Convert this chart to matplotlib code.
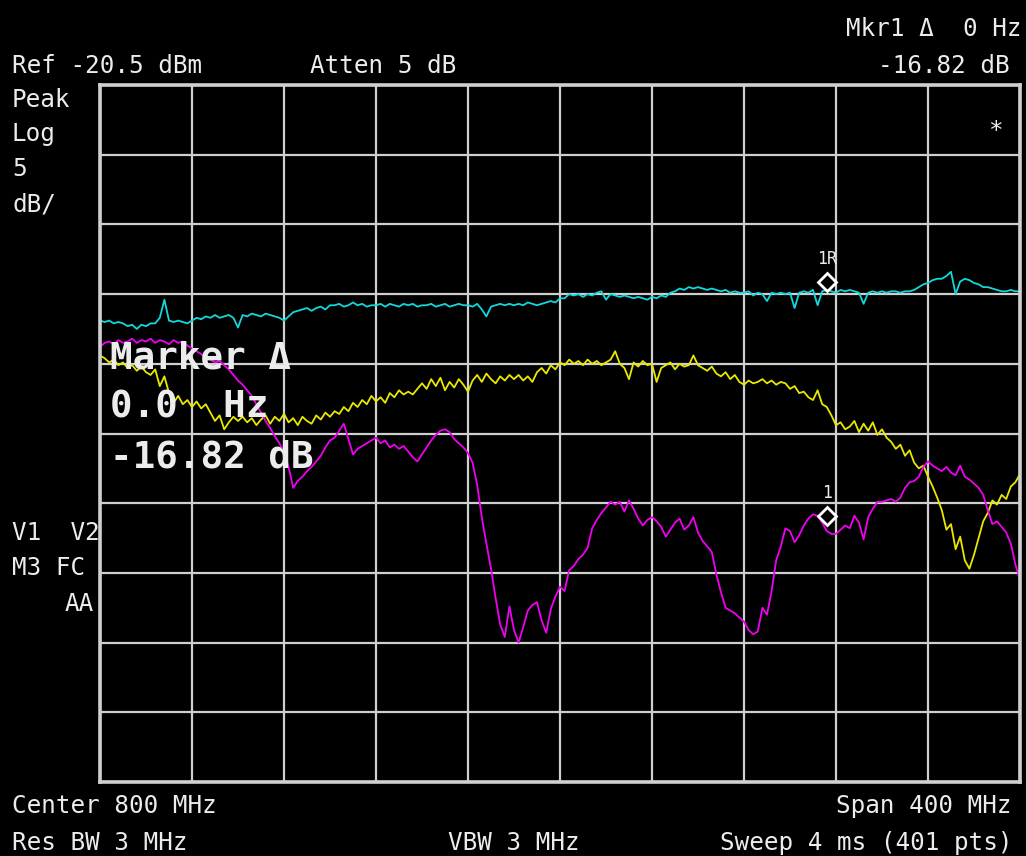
import numpy as np
import matplotlib
matplotlib.use("Agg")
import matplotlib.pyplot as plt

W, H = 1026, 856

# sweep: 600-1000 MHz, read every 2 MHz
freq_mhz = np.arange(600, 1001, 2)

# trace 1 (cyan), dBm
cyan_dbm = [
    -37.4, -37.5, -37.4, -37.6, -37.5, -37.6, -37.8, -37.7, -38.0, -37.7,
    -37.8, -37.6, -37.6, -37.2, -35.9, -37.4, -37.5, -37.4, -37.5, -37.6,
    -37.4, -37.2, -37.3, -37.1, -37.2, -37.0, -37.2, -37.1, -37.0, -37.2,
    -37.9, -37.0, -37.1, -36.9, -37.0, -37.1, -36.9, -37.0, -37.1, -37.2,
    -37.4, -37.1, -36.8, -36.7, -36.6, -36.5, -36.7, -36.5, -36.4, -36.6,
    -36.3, -36.3, -36.2, -36.4, -36.3, -36.1, -36.3, -36.2, -36.4, -36.3,
    -36.3, -36.2, -36.4, -36.2, -36.3, -36.4, -36.2, -36.3, -36.2, -36.4,
    -36.3, -36.3, -36.2, -36.4, -36.3, -36.2, -36.4, -36.3, -36.2, -36.3,
    -36.3, -36.4, -36.2, -36.6, -37.1, -36.4, -36.3, -36.2, -36.3, -36.2,
    -36.3, -36.2, -36.3, -36.1, -36.2, -36.3, -36.2, -36.1, -36.0, -36.1,
    -35.8, -35.8, -35.5, -35.6, -35.5, -35.7, -35.5, -35.6, -35.4, -35.3,
    -35.9, -35.5, -35.6, -35.7, -35.6, -35.7, -35.8, -35.7, -35.8, -35.9,
    -35.7, -35.8, -35.6, -35.7, -35.4, -35.3, -35.1, -35.2, -35.0, -35.1,
    -35.0, -35.1, -35.2, -35.1, -35.2, -35.3, -35.2, -35.4, -35.3, -35.4,
    -35.4, -35.3, -35.6, -35.4, -35.5, -36.0, -35.4, -35.5, -35.4, -35.5,
    -35.4, -36.5, -35.4, -35.3, -35.4, -35.2, -36.3, -35.3, -35.2, -35.3,
    -35.4, -35.2, -35.3, -35.2, -35.3, -35.4, -36.2, -35.4, -35.3, -35.4,
    -35.3, -35.4, -35.3, -35.3, -35.4, -35.3, -35.3, -35.2, -35.0, -34.8,
    -34.7, -34.5, -34.4, -34.4, -34.2, -33.9, -35.5, -34.6, -34.4, -34.5,
    -34.7, -34.8, -35.0, -35.0, -35.1, -35.2, -35.3, -35.3, -35.2, -35.3,
    -35.3,
]

# trace 2 (yellow), dBm
yellow_dbm = [
    -39.9, -40.1, -40.4, -40.2, -40.6, -40.4, -40.8, -40.6, -41.0, -40.7,
    -41.1, -41.3, -40.9, -42.1, -41.4, -42.6, -43.3, -42.8, -43.4, -43.1,
    -43.6, -43.2, -43.7, -43.4, -44.0, -44.6, -44.2, -45.2, -44.7, -44.3,
    -44.6, -44.3, -44.7, -44.4, -44.9, -44.5, -44.2, -44.8, -44.3, -44.6,
    -44.1, -44.7, -44.4, -44.9, -44.3, -44.6, -44.8, -44.2, -44.5, -44.0,
    -44.3, -43.9, -44.1, -43.6, -43.9, -43.3, -43.6, -43.1, -43.4, -42.8,
    -43.2, -42.9, -43.3, -42.6, -42.9, -42.4, -42.7, -42.5, -42.7, -42.3,
    -41.9, -42.3, -41.6, -42.1, -41.5, -42.4, -41.8, -42.2, -41.6, -42.0,
    -42.5, -41.7, -41.3, -41.8, -41.2, -41.6, -41.9, -41.4, -41.7, -41.3,
    -41.6, -41.3, -41.7, -41.4, -41.8, -41.1, -40.8, -41.2, -40.6, -40.9,
    -40.4, -40.6, -40.2, -40.5, -40.3, -40.6, -40.2, -40.5, -40.3, -40.6,
    -40.4, -40.2, -39.6, -40.5, -40.8, -41.6, -40.4, -40.7, -40.3, -40.6,
    -40.5, -41.8, -40.8, -40.6, -40.4, -40.9, -40.5, -40.7, -40.6, -39.9,
    -40.6, -40.8, -41.0, -40.7, -41.2, -41.4, -41.1, -41.6, -41.3, -41.8,
    -42.0, -41.7, -41.9, -41.8, -41.6, -41.9, -41.7, -42.0, -41.8, -41.9,
    -42.3, -42.1, -42.6, -42.5, -42.9, -43.1, -42.4, -43.4, -43.6, -44.2,
    -44.9, -44.7, -45.2, -45.0, -44.6, -45.4, -44.8, -45.3, -44.7, -45.6,
    -45.2, -45.8, -46.1, -46.6, -46.3, -47.1, -46.7, -47.6, -48.0, -47.8,
    -48.6, -49.3, -50.1, -51.0, -52.4, -52.0, -53.8, -52.9, -54.6, -55.2,
    -54.2, -53.0, -51.8, -51.2, -50.3, -50.6, -49.9, -50.2, -49.3, -49.0,
    -48.4,
]

# trace 3 (magenta), dBm
magenta_dbm = [
    -39.3, -39.0, -38.9, -39.1, -38.8, -39.0, -38.9, -38.7, -39.0, -38.8,
    -38.9, -38.7, -39.0, -38.8, -38.9, -39.1, -38.8, -39.0, -38.9, -39.2,
    -39.4, -39.6, -39.8, -40.1, -40.2, -40.4, -40.3, -40.6, -40.9, -41.3,
    -41.7, -42.0, -42.4, -42.8, -43.4, -44.0, -44.6, -45.1, -45.7, -46.2,
    -46.8, -47.9, -49.4, -48.9, -48.6, -48.2, -47.9, -47.5, -47.1, -46.5,
    -46.0, -45.8, -45.3, -44.8, -45.9, -47.0, -46.6, -46.4, -46.2, -46.0,
    -45.8, -46.2, -46.0, -46.5, -46.3, -46.6, -46.4, -46.8, -47.2, -47.5,
    -47.0, -46.5, -46.0, -45.6, -45.3, -45.2, -45.4, -45.9, -46.2, -46.5,
    -46.9, -47.6, -49.2, -51.5, -53.4, -55.2, -57.3, -59.2, -60.1, -57.9,
    -59.6, -60.5, -59.4, -58.2, -57.8, -57.6, -58.9, -59.8, -58.1, -57.2,
    -56.5, -56.8, -55.3, -55.0, -54.5, -54.2, -53.7, -52.3, -51.7, -51.2,
    -50.8, -50.4, -50.6, -50.4, -51.1, -50.3, -50.9, -51.6, -52.1, -51.7,
    -51.5, -51.8, -52.2, -52.9, -52.4, -51.9, -51.6, -52.4, -52.1, -51.5,
    -52.6, -53.2, -53.6, -54.0, -55.6, -56.9, -58.0, -58.2, -58.4, -58.7,
    -59.0, -59.6, -59.9, -59.7, -58.0, -58.5, -56.8, -54.6, -53.6, -52.3,
    -52.5, -53.3, -52.8, -52.1, -51.6, -51.3, -51.4, -51.9, -52.5, -52.7,
    -52.7, -52.4, -52.1, -52.3, -51.4, -51.9, -53.1, -51.5, -50.9, -50.4,
    -50.4, -50.3, -50.2, -50.4, -50.1, -49.4, -49.0, -48.9, -48.6, -47.9,
    -47.5, -47.8, -48.0, -48.2, -47.9, -48.3, -48.5, -47.8, -48.6, -48.8,
    -49.1, -49.4, -49.9, -51.0, -52.0, -51.8, -52.2, -52.6, -53.4, -54.9,
    -56.0,
]

ref_level = -20.5
db_per_div = 5
marker_freq = 916
marker_ref_dbm = -34.6
marker_dbm = -51.42

TXT = "#ececec"
GRID = "#cfcfcf"
MONO = "DejaVu Sans Mono"

fig = plt.figure(figsize=(W / 100, H / 100), dpi=100, facecolor="black")


def ftext(x, y, s, size=17.5, ha="left", weight="normal"):
    # x, y in pixels from top-left, y is the baseline
    fig.text(x / W, 1 - y / H, s, color=TXT, fontsize=size, family=MONO,
             ha=ha, va="baseline", fontweight=weight)


ax = fig.add_axes([100 / W, (H - 782) / H, 920 / W, (782 - 85) / H])
ax.set_facecolor("black")
ax.set_xlim(600, 1000)
ax.set_ylim(ref_level - 10 * db_per_div, ref_level)
ax.set_xticks(np.arange(600, 1001, 40))
ax.set_yticks(np.arange(ref_level - 10 * db_per_div, ref_level + 0.1, db_per_div))
ax.tick_params(length=0, labelbottom=False, labelleft=False)
ax.grid(True, color=GRID, lw=1.6)
ax.set_axisbelow(True)
for sp in ax.spines.values():
    sp.set_color(GRID)
    sp.set_linewidth(2.6)

ax.plot(freq_mhz, cyan_dbm, color="#10d8dc", lw=1.3)
ax.plot(freq_mhz, yellow_dbm, color="#e8e800", lw=1.3)
ax.plot(freq_mhz, magenta_dbm, color="#f000f0", lw=1.3)

for lvl, lab in [(marker_ref_dbm, "1R"), (marker_dbm, "1")]:
    ax.plot(marker_freq, lvl, marker="D", ms=9, mfc="none", mec="white", mew=2)
    ax.annotate(lab, (marker_freq, lvl), xytext=(0, 14), textcoords="offset pixels",
                ha="center", va="bottom", color=TXT, fontsize=12, family=MONO)

# header
ftext(1022, 36, "Mkr1 \u0394  0 Hz", ha="right")
ftext(12, 73, "Ref -20.5 dBm")
ftext(310, 73, "Atten 5 dB")
ftext(1010, 73, "-16.82 dB", ha="right")

# left annotations
ftext(12, 107, "Peak")
ftext(12, 141, "Log")
ftext(12, 176, "5")
ftext(12, 211, "dB/")
ftext(12, 540, "V1  V2")
ftext(12, 575, "M3 FC")
ftext(94, 611, "AA", ha="right")
ftext(995, 138, "*", ha="center")

# marker readout
ftext(110, 368, "Marker \u0394", size=27, weight="bold")
ftext(110, 418, "0.0  Hz", size=27, weight="bold")
ftext(110, 468, "-16.82 dB", size=27, weight="bold")

# footer
ftext(12, 813, "Center 800 MHz")
ftext(1012, 813, "Span 400 MHz", ha="right")
ftext(12, 850, "Res BW 3 MHz")
ftext(448, 850, "VBW 3 MHz")
ftext(1012, 850, "Sweep 4 ms (401 pts)", ha="right")

fig.savefig("out.png", dpi=100, facecolor="black")
